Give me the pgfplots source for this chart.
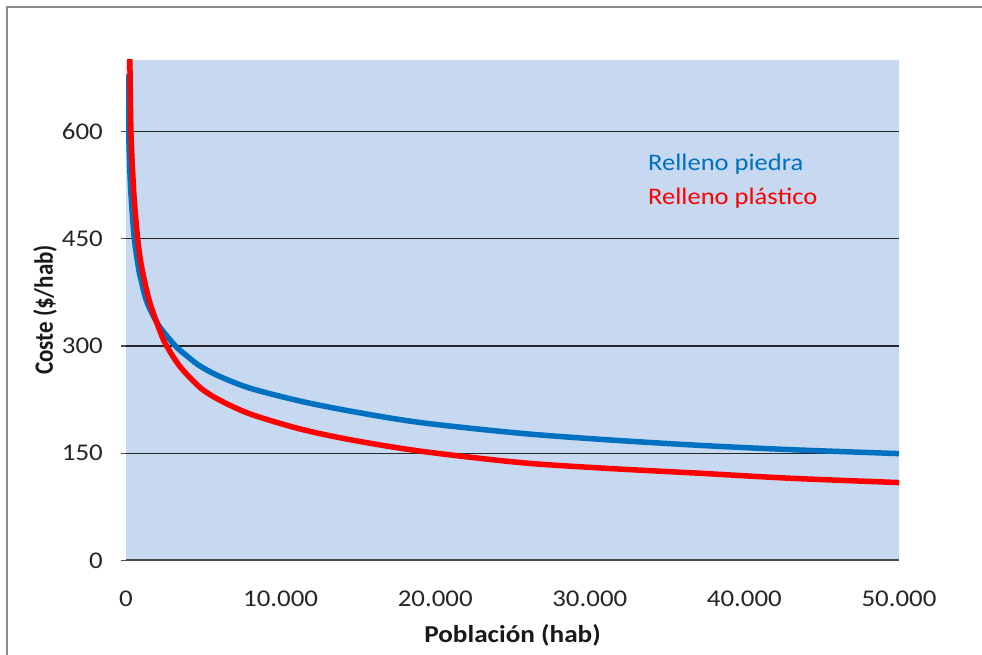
\documentclass[border=0pt]{standalone}
\usepackage{fontspec}
\setmainfont{Carlito}[FakeStretch=1.12]
\newfontfamily\plainfont{Carlito}
\usepackage{graphicx}
\usepackage{pgfplots}
\pgfplotsset{compat=1.18}
\definecolor{plotbg}{RGB}{198,217,241}
\definecolor{xlblue}{RGB}{0,112,192}
\definecolor{xlred}{RGB}{255,0,0}
\pgfplotstableread{
P C
100 680
165 605
250 545
350 503
540 450
800 410
1000 390
1294 365
1700 345
2200 326
3200 300
4000 285
4786 272
6000 258
8020 241
11255 223
14489 209
19017 193
25485 178
31000 169
37128 161
43000 155
50000 149.5
}\piedra
\pgfplotstableread{
P C
200 790
250 700
320 600
450 535
550 500
755 450
1000 412
1510 363
2264 317
2630 300
3500 271
4786 242
6000 225
8020 205
11255 184
14489 169
19017 153
25485 137
31000 129
37128 122
43000 115
50000 109
}\plastico
\begin{document}
\begin{tikzpicture}[x=1pt,y=1pt]
\useasboundingbox (0,0) rectangle (982,655);
\fill[white] (0,0) rectangle (982,655);
\draw[black!45, line width=2.5] (7,-10) -- (7,648) -- (1000,648);
\begin{axis}[
  at={(126pt,94.5pt)}, anchor=south west,
  width=773pt, height=500.5pt, scale only axis,
  xmin=0, xmax=50000, ymin=0, ymax=700,
  scaled x ticks=false, scaled y ticks=false,
  axis background/.style={fill=plotbg},
  axis x line*=bottom, axis y line*=left,
  x axis line style={draw=black!70, line width=2pt},
  y axis line style={draw=none},
  xtick={0,10000,20000,30000,40000,50000},
  xticklabels={0,10.000,20.000,30.000,40.000,50.000},
  ytick={0,150,300,450,600},
  yticklabels={0,150,300,450,600},
  ymajorgrids, grid style={black!85, line width=1.2pt},
  tick align=outside, major tick length=5pt,
  xtick style={draw=none},
  ytick style={draw=black!70, line width=1.2pt},
  /pgf/number format/assume math mode=true,
  tick label style={font=\fontsize{24}{28}\selectfont, text=black!85},
  yticklabel style={anchor=east, inner sep=0pt, xshift=-18pt},
  xticklabel style={anchor=north, inner sep=0pt, yshift=-25pt},
  clip=true,
]
\addplot[xlblue, line width=5.5pt, smooth, tension=0.5] table[x=P,y=C] {\piedra};
\addplot[xlred, line width=5.5pt, smooth, tension=0.5] table[x=P,y=C] {\plastico};
\end{axis}
\node[anchor=base west, text=xlblue, font=\fontsize{23.7}{28}\selectfont, inner sep=0pt] at (648,484.3) {Relleno piedra};
\node[anchor=base west, text=xlred, font=\fontsize{23.7}{28}\selectfont, inner sep=0pt] at (648,450) {Relleno plástico};
\node[font=\bfseries\fontsize{24.3}{28}\selectfont, text=black!90] at (512.5,20) {Población (hab)};
\node[text=black!90, inner sep=0pt] at (45,345) {\rotatebox{90}{\scalebox{1}[1.15]{\plainfont\bfseries\fontsize{23}{27}\selectfont Coste (\$/hab)}}};
\end{tikzpicture}
\end{document}
